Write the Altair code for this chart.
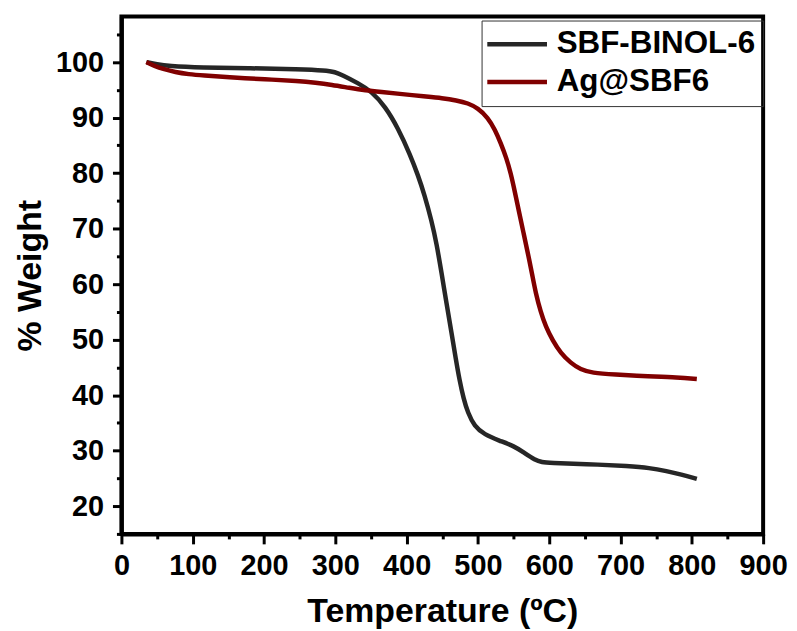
import altair as alt
import pandas as pd

# ---- data ----
series_names = ["SBF-BINOL-6", "Ag@SBF6"]
series_colors = ["#262626", "#800000"]

sbf_temp = [35, 50, 65, 112, 181, 249, 286, 300, 309, 332, 351, 370, 388, 405,
            416, 425, 435, 442, 449, 456, 463, 469, 474, 480, 486, 495, 509, 530,
            551, 565, 580, 590, 600, 650, 714, 740, 765, 785, 807]
sbf_weight = [100.0, 99.6, 99.3, 99.0, 98.9, 98.7, 98.5, 98.2, 97.7, 96.2, 94.7,
              92.0, 88.1, 83.3, 79.6, 76.1, 71.4, 67.3, 62.0, 56.5, 51.2, 46.5,
              42.8, 39.3, 36.8, 34.4, 32.9, 31.8, 30.8, 29.6, 28.3, 27.9, 27.8,
              27.6, 27.2, 26.9, 26.3, 25.7, 24.9]

ag_temp = [35, 46, 60, 75, 95, 112, 158, 200, 249, 272, 295, 320, 342, 365, 388,
           426, 450, 470, 486, 500, 514, 524, 532, 540, 546, 552, 558, 564, 570,
           576, 581, 588, 595, 605, 616, 630, 644, 660, 690, 740, 780, 807]
ag_weight = [100.0, 99.3, 98.7, 98.2, 97.8, 97.6, 97.2, 96.9, 96.6, 96.3, 95.9,
             95.35, 94.9, 94.6, 94.3, 93.8, 93.5, 93.1, 92.6, 91.7, 90.0, 87.8,
             85.4, 82.7, 80.0, 76.5, 72.8, 69.2, 65.6, 61.8, 58.4, 55.0, 52.4,
             49.8, 47.6, 45.8, 44.6, 44.0, 43.7, 43.4, 43.2, 42.9]

x_tick_values = list(range(0, 901, 50))
y_tick_values = list(range(15, 106, 5))

rows = []
for t, w in zip(sbf_temp, sbf_weight):
    rows.append({"Temperature": t, "Weight": w, "Sample": series_names[0]})
for t, w in zip(ag_temp, ag_weight):
    rows.append({"Temperature": t, "Weight": w, "Sample": series_names[1]})
df = pd.DataFrame(rows)

FONT = "Liberation Sans"

chart = alt.Chart(df).mark_line(strokeWidth=4.5, interpolate="basis").encode(
    x=alt.X(
        "Temperature:Q",
        scale=alt.Scale(domain=[0, 900], nice=False, zero=False),
        axis=alt.Axis(
            title="Temperature (ºC)",
            values=x_tick_values,
            labelExpr="datum.value % 100 === 0 ? datum.label : ''",
            tickSize={"condition": {"test": "datum.value % 100 === 0", "value": 10}, "value": 5},
            labelPadding=8,
            titlePadding=14,
            grid=False,
            labelOverlap=False,
            labelFlush=False,
        ),
    ),
    y=alt.Y(
        "Weight:Q",
        scale=alt.Scale(domain=[15, 108.2], nice=False, zero=False),
        axis=alt.Axis(
            title="% Weight",
            values=y_tick_values,
            labelExpr="(datum.value % 10 === 0 && datum.value >= 20 && datum.value <= 100) ? datum.label : ''",
            tickSize={"condition": {"test": "datum.value % 10 === 0", "value": 9}, "value": 5},
            labelPadding=9,
            titlePadding=8,
            grid=False,
            labelOverlap=False,
            labelFlush=False,
        ),
    ),
    color=alt.Color(
        "Sample:N",
        scale=alt.Scale(domain=series_names, range=series_colors),
        legend=alt.Legend(
            title=None,
            orient="none",
            legendX=362,
            legendY=4,
            symbolType="M-1.8,0H4.2",
            symbolSize=400,
            symbolStrokeWidth=4.5,
            labelFont=FONT,
            labelFontSize=31.5,
            labelFontWeight="bold",
            labelColor="black",
            labelLimit=400,
            labelOffset=36,
            strokeColor="#333333",
            padding=8,
            rowPadding=5,
        ),
    ),
).properties(
    width=645,
    height=520,
    autosize=alt.AutoSizeParams(type="none"),
    padding={"left": 114, "top": 7, "right": 26, "bottom": 96},
).configure_view(
    stroke="black",
    strokeWidth=4,
).configure_axis(
    domainColor="black",
    domainWidth=4,
    tickColor="black",
    tickWidth=3,
    labelFont=FONT,
    labelFontSize=29,
    labelFontWeight="bold",
    labelColor="black",
    titleFont=FONT,
    titleFontSize=34,
    titleFontWeight="bold",
    titleColor="black",
)

chart.save("out.html", embed_options={"renderer": "svg", "actions": False})
